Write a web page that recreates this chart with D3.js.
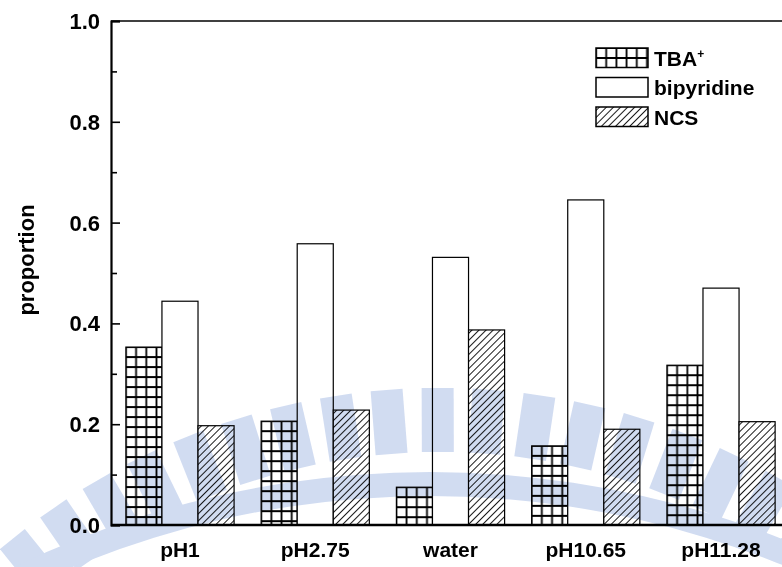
<!DOCTYPE html>
<html>
 <head>
  <meta charset="utf-8" />
  <title>proportion</title>
  <script src="https://cdn.jsdelivr.net/npm/d3@7"></script>
  <style>
    body { margin: 0; background: #fff; }
    text { font-family: "Liberation Sans", Arial, sans-serif; fill: #000; }
  </style>
 </head>
 <body>
  <script>
    // values
    var categories = ["pH1", "pH2.75", "water", "pH10.65", "pH11.28"];
    var seriesKeys = ["tba", "bipyridine", "ncs"];
    var tba        = [0.353, 0.206, 0.075, 0.157, 0.317];
    var bipyridine = [0.444, 0.558, 0.531, 0.645, 0.470];
    var ncs        = [0.197, 0.228, 0.387, 0.190, 0.205];
    var yTicks     = [0.0, 0.2, 0.4, 0.6, 0.8, 1.0];
    var yMinor     = [0.1, 0.3, 0.5, 0.7, 0.9];

    var W = 782, H = 567,
        plotLeft = 111, plotTop = 21, plotBottom = 525, plotRight = 790;

    var rows = categories.map(function(c, i) {
      return {cat: c, tba: tba[i], bipyridine: bipyridine[i], ncs: ncs[i]};
    });

    var x0 = d3.scaleBand().domain(categories).range([plotLeft, plotRight])
        .paddingInner(0.2).paddingOuter(0.11);
    var x1 = d3.scaleBand().domain(seriesKeys).range([0, x0.bandwidth()]);
    var y = d3.scaleLinear().domain([0, 1]).range([plotBottom, plotTop]);

    var svg = d3.select("body").append("svg")
        .attr("width", W).attr("height", H);

    var defs = svg.append("defs");

    // square grid fill (anchored at each bar's top-left corner)
    var grid = defs.append("pattern")
        .attr("id", "grid")
        .attr("patternUnits", "userSpaceOnUse")
        .attr("x", 5.1).attr("y", 5)
        .attr("width", 10.2).attr("height", 10);
    grid.append("rect").attr("width", 10.2).attr("height", 10).attr("fill", "#fff");
    grid.append("path")
        .attr("d", "M5.1,0V10M0,5H10.2")
        .attr("stroke", "#000").attr("stroke-width", 1.8);

    // diagonal hatch
    var hatch = defs.append("pattern")
        .attr("id", "hatch")
        .attr("patternUnits", "userSpaceOnUse")
        .attr("width", 5).attr("height", 5)
        .attr("patternTransform", "rotate(45)");
    hatch.append("rect").attr("width", 5).attr("height", 5).attr("fill", "#fff");
    hatch.append("line")
        .attr("x1", 2.5).attr("y1", 0).attr("x2", 2.5).attr("y2", 5)
        .attr("stroke", "#000").attr("stroke-width", 0.9);

    var fills = {tba: "url(#grid)", bipyridine: "#fff", ncs: "url(#hatch)"};

    // bars
    var groups = svg.append("g").selectAll("g")
      .data(rows)
      .enter().append("g")
        .attr("transform", function(d) { return "translate(" + x0(d.cat) + ",0)"; });

    groups.selectAll("g")
      .data(function(d) { return seriesKeys.map(function(k) { return {key: k, value: d[k]}; }); })
      .enter().append("g")
        .attr("transform", function(d) { return "translate(" + x1(d.key) + "," + y(d.value) + ")"; })
      .append("rect")
        .attr("width", x1.bandwidth())
        .attr("height", function(d) { return plotBottom - y(d.value); })
        .attr("fill", function(d) { return fills[d.key]; })
        .attr("stroke", "#000")
        .attr("stroke-width", 1.2);

    // frame: top line and bottom axis
    svg.append("line").attr("x1", plotLeft).attr("x2", W).attr("y1", plotTop).attr("y2", plotTop)
        .attr("stroke", "#000").attr("stroke-width", 1.5);
    svg.append("line").attr("x1", plotLeft).attr("x2", W).attr("y1", plotBottom).attr("y2", plotBottom)
        .attr("stroke", "#000").attr("stroke-width", 2.5);

    var yAxis = d3.axisRight(y).tickValues(yTicks).tickSize(9).tickFormat("");
    svg.append("g").attr("transform", "translate(" + plotLeft + ",0)")
        .call(yAxis)
        .call(function(g) {
          g.select(".domain").attr("stroke-width", 2.2);
          g.selectAll(".tick line").attr("stroke-width", 1.6);
        });
    svg.append("g").attr("transform", "translate(" + plotLeft + ",0)")
        .call(d3.axisRight(y).tickValues(yMinor).tickSize(6).tickFormat(""))
        .call(function(g) {
          g.select(".domain").remove();
          g.selectAll(".tick line").attr("stroke-width", 1.6);
        });

    // tick labels
    svg.append("g").selectAll("text")
      .data(yTicks)
      .enter().append("text")
        .attr("x", plotLeft - 11)
        .attr("y", function(d) { return y(d); })
        .attr("dy", "0.36em")
        .attr("text-anchor", "end")
        .style("font-size", "22px").style("font-weight", "bold")
        .text(function(d) { return d3.format(".1f")(d); });

    svg.append("g").selectAll("text")
      .data(categories)
      .enter().append("text")
        .attr("x", function(d) { return x0(d) + x0.bandwidth() / 2; })
        .attr("y", 557)
        .attr("text-anchor", "middle")
        .style("font-size", "21px").style("font-weight", "bold")
        .text(function(d) { return d; });

    svg.append("text")
      .attr("transform", "translate(34,260) rotate(-90)")
      .attr("text-anchor", "middle")
      .style("font-size", "22px").style("font-weight", "bold")
      .text("proportion");

    // legend
    var legendItems = [
      {key: "tba", label: "TBA", sup: "+"},
      {key: "bipyridine", label: "bipyridine"},
      {key: "ncs", label: "NCS"}
    ];
    var legend = svg.append("g").selectAll("g")
      .data(legendItems)
      .enter().append("g")
        .attr("transform", function(d, i) { return "translate(596," + (48 + i * 29.5) + ")"; });
    legend.append("rect")
        .attr("width", 52).attr("height", 19.5)
        .attr("fill", function(d) { return fills[d.key]; })
        .attr("stroke", "#000").attr("stroke-width", 1.5);
    var lt = legend.append("text")
        .attr("x", 58).attr("y", 10).attr("dy", "0.36em")
        .style("font-size", "21px").style("font-weight", "bold");
    lt.append("tspan").text(function(d) { return d.label; });
    lt.filter(function(d) { return d.sup; }).append("tspan")
        .attr("dy", "-0.6em").style("font-size", "12px")
        .text(function(d) { return d.sup; });

    // faint background watermark laid over the chart
    var wm = svg.append("g")
        .style("mix-blend-mode", "multiply")
        .attr("fill", "#c9d6ef")
        .attr("opacity", 0.85);
    var teeth = d3.range(-9, 9).map(function(k) { return -0.2 + 4.3 * k; });
    wm.selectAll("rect")
      .data(teeth)
      .enter().append("rect")
        .attr("transform", function(a) { return "translate(440,1069) rotate(" + a + ")"; })
        .attr("x", -16).attr("y", -681)
        .attr("width", 32).attr("height", 64);
    wm.append("path")
        .attr("transform", "translate(430,1430)")
        .attr("d", d3.arc().innerRadius(934).outerRadius(958)
              .startAngle(-0.6).endAngle(0.6)());
  </script>
 </body>
</html>
